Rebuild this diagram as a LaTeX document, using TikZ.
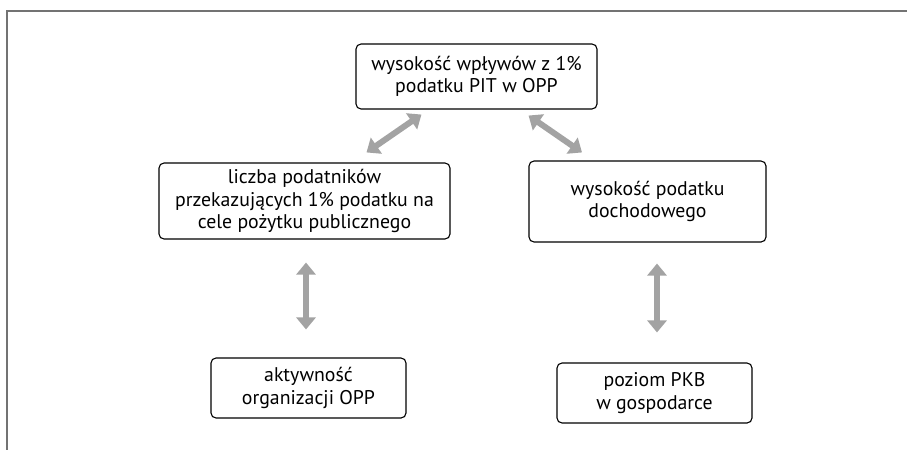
\documentclass[tikz,border=0pt]{standalone}
\usepackage{fontspec}
\setmainfont{PT Sans}
\usetikzlibrary{arrows.meta}

\begin{document}
\begin{tikzpicture}
  [
    x=1pt, y=-1pt,
    box/.style    = {draw, rounded corners=5pt, line width=1.1pt, align=center,
                     inner sep=0pt, font=\fontsize{19.8}{22.5}\selectfont},
    frame/.style  = {draw=black!55, line width=1.3pt},
    link/.style   = {draw=black!36, line width=6pt,
                     {Triangle[width=19pt,length=12pt]}-{Triangle[width=19pt,length=12pt]}},
  ]

%Page size
\def \pw{907}
\def \ph{450}
\useasboundingbox (0,0) rectangle (\pw,\ph);

%Frame on two sides
\draw[frame] (\pw,11) -- (7,11) -- (7,\ph);

%Boxes
\node[box, minimum width=241pt, minimum height=65pt] (wplywy) at (476.5,76.5)
  {wysokość wpływów z 1\%\\podatku PIT w OPP};
\node[box, minimum width=291pt, minimum height=76pt] (liczba) at (304.5,201)
  {liczba podatników\\przekazujących 1\% podatku na\\cele pożytku publicznego};
\node[box, minimum width=237pt, minimum height=81pt] (podatek) at (647.5,201.5)
  {wysokość podatku\\dochodowego};
\node[box, minimum width=195pt, minimum height=60pt] (aktywnosc) at (308.5,388)
  {aktywność\\organizacji OPP};
\node[box, minimum width=195pt, minimum height=60pt] (pkb) at (654.5,393)
  {poziom PKB\\w gospodarce};

%Double arrows
\draw[link] ([xshift=66pt,yshift=-5pt]wplywy.south west) -- ([xshift=62pt,yshift=10pt]liczba.north);
\draw[link] ([xshift=-69pt,yshift=-6pt]wplywy.south east) -- ([xshift=-65.5pt,yshift=8pt]podatek.north);
\draw[link] ([xshift=1.5pt,yshift=-23pt]liczba.south) -- ([xshift=-2.5pt,yshift=28pt]aktywnosc.north);
\draw[link] ([xshift=9.5pt,yshift=-21pt]podatek.south) -- ([xshift=2.5pt,yshift=30pt]pkb.north);
\end{tikzpicture}
\end{document}
